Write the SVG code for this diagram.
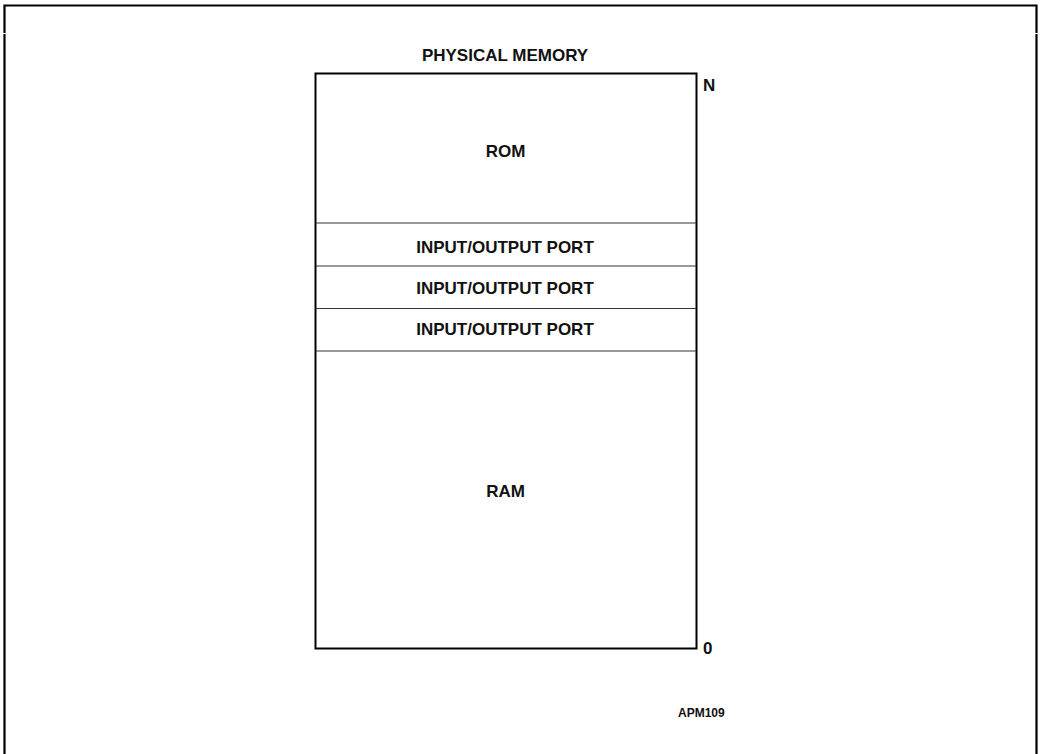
<svg xmlns="http://www.w3.org/2000/svg" width="1042" height="754" viewBox="0 0 1042 754">
<style>
.t{font-family:"Liberation Sans",Arial,sans-serif;font-weight:bold;font-size:17px;fill:#111;text-anchor:middle}
.s{font-family:"Liberation Sans",Arial,sans-serif;font-weight:bold;font-size:17px;fill:#111}
.frame{fill:none;stroke:#000;stroke-width:2.2}
.box{fill:#fff;stroke:#000;stroke-width:2}
.div{stroke:#333;stroke-width:1.2}
</style>
<rect width="1042" height="754" fill="#fff"/>
<g id="frame">
<path class="frame" d="M4.5,33 V5.5 H1036.5 V33"/>
<path class="frame" d="M4.5,34 V754 M1036.5,34 V754"/>
</g>
<text class="t" x="505" y="60.5">PHYSICAL MEMORY</text>
<g id="memory">
<rect class="box" x="315.5" y="73.5" width="381" height="575"/>
</g>
<g id="connectors">
<line class="div" x1="316" y1="223" x2="696" y2="223"/>
<line class="div" x1="316" y1="266" x2="696" y2="266"/>
<line class="div" x1="316" y1="308.5" x2="696" y2="308.5"/>
<line class="div" x1="316" y1="351" x2="696" y2="351"/>
</g>
<g id="rom"><text class="t" x="505.5" y="156.5">ROM</text></g>
<g id="io1"><text class="t" x="505" y="252.5">INPUT/OUTPUT PORT</text></g>
<g id="io2"><text class="t" x="505" y="293.5">INPUT/OUTPUT PORT</text></g>
<g id="io3"><text class="t" x="505" y="335">INPUT/OUTPUT PORT</text></g>
<g id="ram"><text class="t" x="505.5" y="496.5">RAM</text></g>
<text class="s" x="703" y="90.5">N</text>
<text class="s" x="703" y="653.5">0</text>
<text class="s" x="678" y="716.5" style="font-size:12px">APM109</text>
</svg>
